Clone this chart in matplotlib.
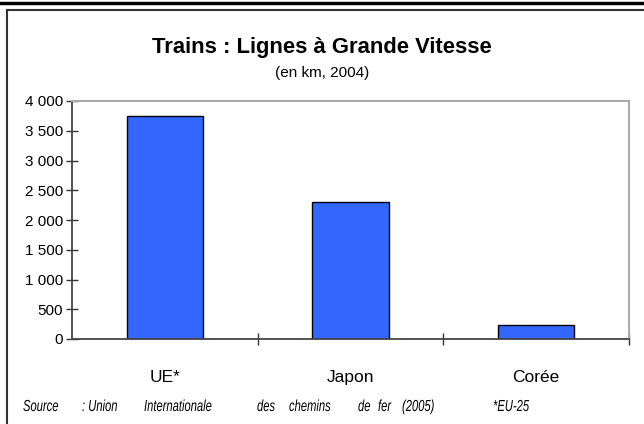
import matplotlib
matplotlib.use('Agg')
import matplotlib.pyplot as plt
import matplotlib.transforms as mtransforms
from matplotlib.lines import Line2D
from matplotlib.patches import PathPatch
from matplotlib.textpath import TextPath
from matplotlib.font_manager import FontProperties
from matplotlib.ticker import FuncFormatter

plt.rcParams['font.family'] = ['Liberation Sans', 'DejaVu Sans']

# data (km of high speed lines, 2004)
categories = ['UE*', 'Japon', 'Corée']
values = [3750, 2300, 240]
yticks = [0, 500, 1000, 1500, 2000, 2500, 3000, 3500, 4000]

# source line words, spread out like the original
source_words = ['Source', ': Union', 'Internationale', 'des', 'chemins', 'de', 'fer', '(2005)', '*EU-25']
source_x = [23, 82, 144, 257, 289, 358, 378, 402, 493]

W, H = 644, 424
fig = plt.figure(figsize=(W/100., H/100.), dpi=100)

# outer decoration lines
fig.add_artist(Line2D([0, 1], [1 - 2.5/H, 1 - 2.5/H], color='black', lw=2.5))
fig.add_artist(Line2D([7/W, 1], [1 - 10/H, 1 - 10/H], color='#333333', lw=1.5))
fig.add_artist(Line2D([7/W, 7/W], [0, 1 - 10/H], color='#333333', lw=1.5))

ax = fig.add_axes([72/W, 1 - 339/H, (629 - 72)/W, (339 - 101)/H])
x = range(len(categories))
ax.bar(x, values, width=0.41, color='#3366FF', edgecolor='black', linewidth=1.0)
ax.set_xlim(-0.5, len(categories) - 0.5)
ax.set_ylim(0, 4000)
ax.set_yticks(yticks)
ax.yaxis.set_major_formatter(FuncFormatter(lambda v, p: '{:,.0f}'.format(v).replace(',', ' ')))
ax.set_xticks([0.5, 1.5, 2.5])
ax.set_xticklabels([])
ax.tick_params(axis='both', direction='inout', length=9, width=1, color='#333333')
ax.tick_params(axis='y', labelsize=11, pad=2)

for s in ['top', 'right']:
  ax.spines[s].set_color('#aaaaaa')
  ax.spines[s].set_linewidth(1.5)
for s in ['left', 'bottom']:
  ax.spines[s].set_color('#444444')
  ax.spines[s].set_linewidth(1.3)

for i, c in enumerate(categories):
  ax.text(i, -0.16, c, transform=ax.get_xaxis_transform(), ha='center', va='center', fontsize=12.5)

# titles
fig.text(0.5, 1 - 47/H, 'Trains : Lignes à Grande Vitesse', ha='center', va='center',
         fontsize=15.8, fontweight='bold')
fig.text(0.5, 1 - 73/H, '(en km, 2004)', ha='center', va='center', fontsize=11)

# condensed italic source line (narrow font faked by squeezing the glyph paths)
fp = FontProperties(family='Liberation Sans', style='italic')
for w, xs in zip(source_words, source_x):
  tp = TextPath((0, 0), w, size=16, prop=fp)
  tr = mtransforms.Affine2D().scale(0.7/W, 1./H).translate(xs/W, (H - 411)/H) + fig.transFigure
  fig.add_artist(PathPatch(tp, transform=tr, facecolor='black', edgecolor='none'))

fig.savefig('out.png', dpi=100)
